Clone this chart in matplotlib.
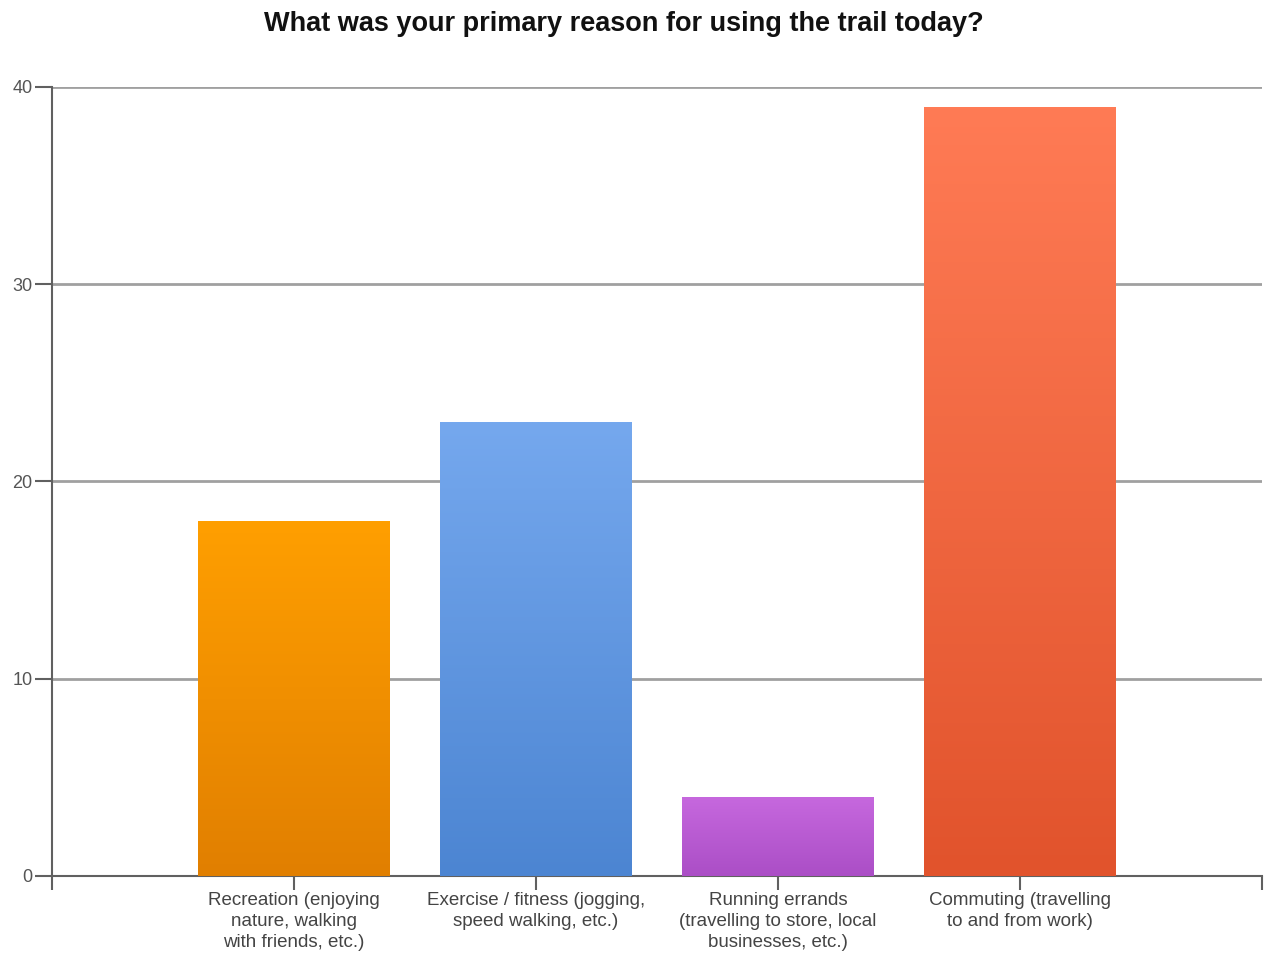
import numpy as np
import matplotlib
matplotlib.use("Agg")
import matplotlib.pyplot as plt
from matplotlib.colors import LinearSegmentedColormap

plt.rcParams['font.family'] = ['Liberation Sans', 'DejaVu Sans']

# data
categories = [
    "Recreation (enjoying\nnature, walking\nwith friends, etc.)",
    "Exercise / fitness (jogging,\nspeed walking, etc.)",
    "Running errands\n(travelling to store, local\nbusinesses, etc.)",
    "Commuting (travelling\nto and from work)",
]
counts = [18, 23, 4, 39]
top_colors = ["#ff9f00", "#75a8ee", "#c668de", "#ff7b55"]
bottom_colors = ["#e17f00", "#4c85d2", "#ab4ec6", "#e1532c"]
title = "What was your primary reason for using the trail today?"

fig = plt.figure(figsize=(12.67, 9.55), dpi=100)
ax = fig.add_axes([0.041, 0.083, 0.955, 0.826])

xpos = np.arange(1, len(counts) + 1)
bars = ax.bar(xpos, counts, width=0.79, color="none", zorder=3)

# gradient fill, clipped to each bar
grad = np.linspace(0, 1, 256).reshape(-1, 1)
for b, c0, c1 in zip(bars, top_colors, bottom_colors):
    cmap = LinearSegmentedColormap.from_list("g", [c1, c0])
    x0, y0 = b.get_x(), b.get_y()
    w, h = b.get_width(), b.get_height()
    im = ax.imshow(grad, cmap=cmap, aspect="auto", origin="lower",
                   extent=[x0, x0 + w, y0, y0 + h], zorder=3)
    im.set_clip_path(b)

ax.set_xlim(0, 5)
ax.set_ylim(0, 40)
ax.set_yticks([0, 10, 20, 30, 40])
ax.set_xticks([0, 1, 2, 3, 4, 5])
ax.set_xticklabels([""] + categories + [""])

ax.yaxis.grid(True, color="#a0a0a0", linewidth=2, zorder=0)
ax.set_axisbelow(True)
for s in ["top", "right"]:
    ax.spines[s].set_visible(False)
for s in ["left", "bottom"]:
    ax.spines[s].set_color("#606060")
    ax.spines[s].set_linewidth(1.5)

ax.tick_params(axis="y", length=12, width=1.5, color="#606060",
               labelsize=13, labelcolor="#555555", pad=2)
ax.tick_params(axis="x", length=10, width=1.5, color="#606060",
               labelsize=13.5, labelcolor="#444444", pad=2)
for lbl in ax.get_xticklabels():
    lbl.set_linespacing(1.3)

fig.text(0.4925, 0.975, title, ha="center", va="center",
         fontsize=19.5, fontweight="bold", color="#111111")

fig.savefig("out.png", dpi=100)
